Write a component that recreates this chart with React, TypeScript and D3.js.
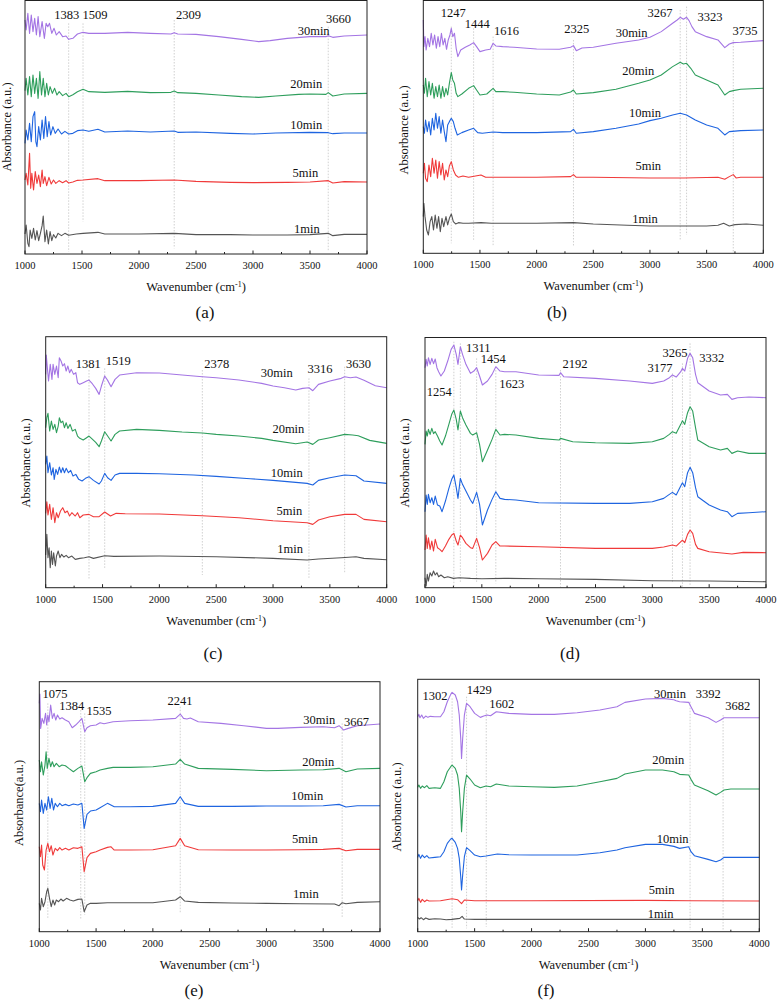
import React from "react";
import * as d3 from "d3";

type P = [number, number];
type Lbl = [string, number, number];
type VLine = [number, number, number];

const times = ["1min", "5min", "10min", "20min", "30min"];
const colors = ["#555555", "#F03A3A", "#1E64E0", "#2E9E5C", "#A475E4"];
const xTicks = [1000, 1500, 2000, 2500, 3000, 3500, 4000];
const xMinor = [1250, 1750, 2250, 2750, 3250, 3750];

// ---------- panel (a) ----------
const a30: P[] = [[1000,702],[1010,672],[1025,722],[1040,662],[1055,717],[1070,667],[1085,707],[1100,657],[1115,712],[1130,652],[1150,697],[1170,647],[1185,692],[1200,682],[1215,692],[1235,662],[1255,677],[1275,657],[1300,667],[1330,652],[1360,654],[1383,644],[1420,647],[1460,660],[1509,665],[1560,662],[1700,662],[1900,665],[2100,662],[2280,660],[2309,664],[2340,660],[2500,659],[2700,652],[2900,644],[3050,637],[3150,640],[3300,647],[3500,652],[3640,652],[3660,655],[3700,650],[3800,654],[4000,657]];
const a20: P[] = [[1000,490],[1010,527],[1025,477],[1040,532],[1055,472],[1070,537],[1085,482],[1100,527],[1115,467],[1130,547],[1145,477],[1160,527],[1175,472],[1190,512],[1205,477],[1220,502],[1240,482],[1260,497],[1280,477],[1300,487],[1330,475],[1360,482],[1383,472],[1420,478],[1460,487],[1509,494],[1560,487],[1700,485],[1900,488],[2100,484],[2280,485],[2309,489],[2340,484],[2500,482],[2700,477],[2900,472],[3050,470],[3200,474],[3400,479],[3500,480],[3640,479],[3660,484],[3700,474],[3800,480],[4000,482]];
const a10: P[] = [[1000,332],[1010,372],[1025,342],[1040,392],[1055,337],[1070,412],[1085,427],[1095,337],[1105,322],[1120,382],[1135,342],[1150,402],[1165,347],[1180,412],[1195,352],[1210,397],[1225,357],[1245,382],[1265,362],[1290,375],[1320,360],[1350,368],[1383,360],[1420,362],[1460,370],[1509,372],[1560,368],[1640,374],[1700,366],[1900,369],[2100,366],[2309,369],[2340,365],[2500,366],[2800,362],[3000,360],[3200,363],[3500,365],[3660,364],[3700,361],[3800,363],[4000,363]];
const a5: P[] = [[1000,222],[1010,242],[1025,207],[1040,302],[1050,197],[1060,242],[1075,192],[1090,247],[1105,212],[1120,237],[1135,202],[1150,252],[1160,212],[1175,232],[1190,205],[1210,230],[1230,210],[1250,222],[1270,212],[1300,220],[1330,214],[1360,220],[1383,213],[1420,216],[1460,221],[1509,222],[1640,226],[1700,220],[2000,220],[2309,222],[2500,218],[2800,215],[3000,214],[3300,215],[3500,216],[3660,220],[3700,213],[3800,217],[4000,216]];
const a1: P[] = [[1000,60],[1010,87],[1025,32],[1035,22],[1045,72],[1060,47],[1075,77],[1090,42],[1105,70],[1120,40],[1135,62],[1150,85],[1160,114],[1175,37],[1190,72],[1205,30],[1220,67],[1235,40],[1250,58],[1270,48],[1290,62],[1320,55],[1350,62],[1383,56],[1450,60],[1509,62],[1640,65],[1700,60],[2000,60],[2309,62],[2500,58],[2800,58],[3000,57],[3300,57],[3500,58],[3660,62],[3700,55],[3800,59],[4000,59]];
const aPeaks: Lbl[] = [["1383",1366,705],["1509",1615,705],["2309",2434,705],["3660",3751,692]];
const aTimePos: P[] = [[3473,64],[3459,232],[3467,374],[3467,497],[3532,657]];
const aLines: VLine[] = [[1383,692,7],[1509,692,97],[2309,702,17],[3660,682,7]];

// ---------- panel (b) ----------
const b30: P[] = [[1000,700],[1005,620],[1015,650],[1025,610],[1040,645],[1055,620],[1070,660],[1085,625],[1100,655],[1115,615],[1130,650],[1145,620],[1160,660],[1175,625],[1190,645],[1205,612],[1220,640],[1235,655],[1247,675],[1260,650],[1275,660],[1290,615],[1305,590],[1330,610],[1370,618],[1410,625],[1444,632],[1470,620],[1500,605],[1550,610],[1590,612],[1616,630],[1640,622],[1700,620],[1800,618],[2000,613],[2200,612],[2300,618],[2325,623],[2350,608],[2400,616],[2500,618],[2700,630],[2900,640],[3000,648],[3100,665],[3200,690],[3240,700],[3267,708],[3295,702],[3323,708],[3345,698],[3370,680],[3400,665],[3500,650],[3600,640],[3660,617],[3700,628],[3735,632],[3800,633],[4000,638]];
const b20: P[] = [[1000,505],[1010,480],[1020,525],[1035,470],[1050,515],[1065,475],[1080,510],[1095,465],[1110,500],[1125,470],[1140,505],[1155,465],[1170,500],[1185,470],[1200,495],[1215,475],[1230,510],[1247,542],[1260,520],[1275,510],[1290,480],[1305,470],[1340,478],[1400,495],[1444,503],[1470,490],[1500,475],[1560,478],[1616,495],[1640,485],[1700,485],[1800,483],[2000,478],[2200,475],[2300,484],[2325,490],[2350,478],[2500,482],[2700,492],[2900,510],[3000,520],[3100,535],[3200,560],[3267,573],[3295,568],[3323,570],[3360,555],[3400,535],[3500,520],[3600,505],[3660,475],[3700,485],[3735,488],[3800,492],[4000,495]];
const b10: P[] = [[1000,380],[1010,360],[1020,400],[1035,365],[1050,395],[1065,355],[1080,405],[1095,370],[1110,420],[1125,375],[1140,410],[1155,360],[1170,400],[1185,365],[1200,335],[1215,385],[1230,395],[1247,405],[1265,395],[1280,375],[1300,355],[1340,362],[1400,370],[1444,375],[1480,362],[1520,360],[1616,364],[1700,362],[2000,362],[2300,365],[2325,372],[2350,360],[2500,365],[2700,375],[2900,388],[3000,398],[3100,405],[3200,415],[3267,420],[3323,415],[3400,400],[3500,385],[3600,375],[3660,355],[3700,365],[3800,368],[4000,370]];
const b5: P[] = [[1000,240],[1010,270],[1020,225],[1035,215],[1050,265],[1065,230],[1080,285],[1095,240],[1110,280],[1125,225],[1140,275],[1155,235],[1170,270],[1185,220],[1200,250],[1215,230],[1230,262],[1247,275],[1265,250],[1285,235],[1310,228],[1350,232],[1400,228],[1509,235],[1550,228],[1700,228],[2000,228],[2300,230],[2325,236],[2350,228],[2500,228],[3000,226],[3300,226],[3600,228],[3660,222],[3700,230],[3735,236],[3760,226],[3800,228],[4000,228]];
const b1: P[] = [[1000,110],[1005,150],[1015,110],[1030,70],[1045,55],[1060,95],[1075,110],[1090,70],[1105,115],[1120,75],[1135,110],[1150,65],[1165,105],[1180,80],[1200,110],[1215,85],[1230,105],[1247,118],[1265,95],[1285,88],[1310,92],[1350,90],[1400,90],[1509,92],[1600,90],[1700,90],[2000,90],[2325,92],[2500,88],[2800,84],[3000,82],[3300,82],[3500,82],[3600,84],[3650,90],[3700,82],[3750,86],[3850,88],[4000,84]];
const bPeaks: Lbl[] = [["1247",1265,710],["1444",1476,675],["1616",1735,655],["2325",2353,660],["3267",3088,708],["3323",3529,697],["3735",3838,655]];
const bTimePos: P[] = [[2956,90],[2985,250],[2956,410],[2897,535],[2838,650]];
const bLines: VLine[] = [[1247,680,30],[1444,675,40],[1616,650,20],[2325,640,20],[3267,730,40],[3323,740,55],[3735,640,0]];

// ---------- panel (c) ----------
const c30: P[] = [[1000,640],[1005,698],[1015,658],[1025,620],[1040,670],[1055,625],[1065,670],[1080,640],[1095,665],[1110,630],[1120,690],[1135,680],[1150,665],[1165,672],[1180,650],[1195,665],[1210,645],[1225,655],[1245,640],[1265,645],[1280,615],[1300,610],[1330,615],[1360,620],[1381,623],[1410,612],[1440,598],[1470,580],[1490,605],[1519,635],[1545,622],[1575,603],[1610,625],[1650,638],[1800,645],[2000,644],[2200,638],[2378,633],[2500,630],[2700,623],[2900,613],[3000,605],[3100,600],[3200,593],[3260,598],[3316,600],[3350,591],[3400,610],[3500,620],[3600,628],[3630,633],[3680,630],[3730,632],[3800,622],[3900,606],[4000,600]];
const c20: P[] = [[1000,480],[1010,510],[1020,523],[1035,470],[1050,500],[1065,475],[1080,490],[1095,465],[1110,485],[1120,510],[1135,495],[1150,500],[1165,480],[1180,495],[1195,478],[1215,490],[1235,470],[1260,475],[1280,455],[1300,448],[1330,443],[1360,450],[1381,455],[1410,446],[1440,436],[1470,423],[1490,440],[1519,468],[1545,455],[1575,440],[1610,460],[1650,470],[1800,475],[2000,472],[2200,467],[2378,464],[2500,460],[2700,455],[2900,448],[3000,442],[3200,432],[3300,437],[3350,430],[3400,443],[3500,450],[3630,460],[3700,458],[3750,456],[3850,442],[4000,433]];
const c10: P[] = [[1000,370],[1010,395],[1020,345],[1035,375],[1050,338],[1065,360],[1075,325],[1090,355],[1105,340],[1120,362],[1135,345],[1150,360],[1165,345],[1180,358],[1200,345],[1220,352],[1240,335],[1265,340],[1290,325],[1320,320],[1350,328],[1381,333],[1420,322],[1470,311],[1490,320],[1519,343],[1545,330],[1575,322],[1610,338],[1650,343],[1800,343],[2000,342],[2300,338],[2500,334],[2800,327],[3000,322],[3200,316],[3300,313],[3350,308],[3400,322],[3500,330],[3630,338],[3730,336],[3800,320],[4000,313]];
const c5: P[] = [[1000,223],[1010,258],[1020,218],[1035,250],[1050,205],[1065,240],[1080,195],[1095,225],[1110,210],[1130,230],[1150,240],[1170,225],[1190,230],[1210,215],[1230,225],[1260,215],[1280,225],[1300,210],[1330,218],[1381,220],[1420,213],[1470,213],[1519,227],[1570,215],[1620,223],[1700,222],[2000,221],[2378,216],[2700,210],[3000,201],[3300,195],[3350,190],[3400,203],[3500,213],[3630,220],[3730,220],[3800,205],[4000,198]];
const c1: P[] = [[1000,98],[1010,160],[1020,90],[1030,120],[1040,60],[1050,110],[1060,70],[1070,105],[1085,65],[1095,95],[1110,110],[1125,90],[1140,100],[1160,92],[1180,97],[1200,90],[1230,95],[1260,85],[1300,88],[1340,90],[1381,93],[1420,88],[1519,96],[1600,94],[2000,95],[2500,93],[3000,88],[3300,83],[3400,86],[3600,90],[3730,93],[3800,88],[4000,84]];
const cPeaks: Lbl[] = [["1381",1375,660],["1519",1639,668],["2378",2505,660],["3316",3414,643],["3630",3751,660]];
const cTimePos: P[] = [[3150,103],[3144,218],[3121,333],[3135,463],[3033,633]];
const cLines: VLine[] = [[1381,653,25],[1519,658,55],[2378,653,38],[3316,628,28],[3630,663,43]];

// ---------- panel (d) ----------
const d30: P[] = [[1000,660],[1010,685],[1020,665],[1030,690],[1045,670],[1060,688],[1075,672],[1090,686],[1105,660],[1120,648],[1140,635],[1170,650],[1200,680],[1230,715],[1254,728],[1275,700],[1290,670],[1311,723],[1330,700],[1360,670],[1400,643],[1430,650],[1454,660],[1480,635],[1505,608],[1550,620],[1590,640],[1623,663],[1660,650],[1700,648],[1800,648],[2000,638],[2180,637],[2192,645],[2220,633],[2500,628],[2800,620],[3000,613],[3100,620],[3150,630],[3177,638],[3210,632],[3250,648],[3265,658],[3285,650],[3310,688],[3332,703],[3355,690],[3380,640],[3400,615],[3500,590],[3600,578],[3660,580],[3700,565],[3750,570],[3850,572],[4000,570]];
const d20: P[] = [[1000,430],[1010,470],[1020,455],[1030,475],[1045,460],[1060,478],[1075,462],[1090,468],[1110,455],[1130,440],[1150,428],[1180,455],[1210,490],[1235,520],[1254,533],[1275,505],[1290,473],[1311,530],[1330,510],[1360,488],[1400,463],[1420,458],[1454,465],[1480,430],[1505,378],[1550,413],[1590,445],[1623,475],[1660,458],[1700,460],[1800,458],[2000,448],[2180,443],[2192,448],[2300,438],[2500,435],[2800,433],[3000,438],[3100,448],[3150,460],[3177,468],[3210,463],[3250,490],[3265,501],[3285,490],[3310,525],[3332,543],[3355,530],[3380,480],[3400,443],[3500,423],[3600,413],[3660,418],[3700,403],[3750,410],[3850,403],[4000,403]];
const d10: P[] = [[1000,228],[1010,278],[1020,250],[1030,280],[1045,255],[1060,270],[1075,250],[1090,275],[1110,248],[1130,245],[1150,228],[1180,260],[1210,298],[1235,325],[1254,338],[1275,300],[1290,268],[1311,328],[1330,310],[1360,290],[1400,263],[1420,253],[1454,286],[1480,250],[1505,188],[1550,233],[1590,265],[1623,288],[1660,268],[1700,265],[1800,263],[2000,255],[2500,253],[2800,253],[3000,258],[3100,268],[3150,280],[3177,286],[3210,278],[3250,305],[3265,315],[3285,303],[3310,345],[3332,361],[3355,345],[3380,300],[3400,273],[3500,248],[3600,233],[3660,228],[3700,213],[3750,223],[3850,225],[4000,228]];
const d5: P[] = [[1000,113],[1010,158],[1020,118],[1030,150],[1045,115],[1060,140],[1075,110],[1090,145],[1110,120],[1130,115],[1150,108],[1180,125],[1210,145],[1235,158],[1254,163],[1275,140],[1290,128],[1311,158],[1330,150],[1360,133],[1400,120],[1420,118],[1454,148],[1480,120],[1505,83],[1550,103],[1590,128],[1623,138],[1660,125],[1700,125],[2000,123],[2500,118],[3000,118],[3100,122],[3177,128],[3210,125],[3265,143],[3285,135],[3310,160],[3332,173],[3355,163],[3380,130],[3400,118],[3500,108],[3700,101],[3800,106],[4000,105]];
const d1: P[] = [[1000,30],[1010,5],[1020,40],[1030,20],[1045,45],[1060,35],[1075,50],[1090,38],[1105,45],[1120,33],[1140,38],[1170,30],[1200,33],[1250,28],[1300,30],[1400,28],[1500,27],[1700,28],[2000,27],[2500,25],[3000,21],[3500,20],[4000,18]];
const dPeaks: Lbl[] = [["1311",1469,708],["1454",1601,675],["2192",2320,658],["3177",3068,648],["3265",3200,693],["3332",3523,678],["1254",1126,575],["1623",1763,600]];
const dTimePos: P[] = [];
const dLines: VLine[] = [[1254,738,0],[1311,733,13],[1454,688,13],[1623,653,13],[2192,653,3],[3177,643,13],[3265,673,3],[3332,733,8]];

// ---------- panel (e) ----------
const e30: P[] = [[1000,685],[1005,713],[1012,610],[1025,640],[1040,625],[1055,655],[1065,620],[1075,650],[1085,630],[1100,680],[1115,640],[1130,655],[1145,635],[1160,650],[1180,638],[1200,642],[1230,635],[1260,630],[1290,612],[1320,620],[1350,630],[1375,640],[1400,600],[1420,612],[1450,618],[1500,620],[1535,627],[1570,624],[1650,630],[1800,633],[2000,635],[2200,640],[2241,653],[2270,640],[2300,638],[2330,641],[2400,630],[2600,625],[2800,618],[3000,610],[3100,610],[3300,613],[3500,615],[3600,612],[3640,618],[3680,605],[3720,610],[3800,618],[4000,623]];
const e20: P[] = [[1000,515],[1010,480],[1020,510],[1035,470],[1050,500],[1060,540],[1070,490],[1085,520],[1100,495],[1115,510],[1130,495],[1150,505],[1175,495],[1200,500],[1230,498],[1260,490],[1300,480],[1340,490],[1375,497],[1400,450],[1420,462],[1450,475],[1500,480],[1535,485],[1600,490],[1650,493],[1800,493],[2000,495],[2200,503],[2241,517],[2280,503],[2400,490],[2700,487],[3000,483],[3300,485],[3500,486],[3640,490],[3700,480],[3800,488],[4000,490]];
const e10: P[] = [[1000,385],[1010,360],[1020,395],[1035,355],[1050,385],[1065,365],[1080,405],[1095,370],[1110,400],[1125,365],[1140,385],[1160,375],[1180,385],[1200,378],[1230,382],[1260,378],[1300,383],[1340,380],[1375,385],[1395,310],[1420,352],[1450,362],[1500,365],[1535,372],[1600,385],[1630,380],[1660,375],[1800,375],[2000,376],[2200,385],[2241,405],[2280,385],[2400,376],[2700,376],[3000,377],[3300,377],[3500,378],[3640,382],[3700,374],[3800,378],[4000,378]];
const e5: P[] = [[1000,255],[1010,225],[1020,260],[1030,200],[1045,185],[1060,245],[1075,265],[1090,240],[1105,258],[1120,230],[1140,250],[1160,243],[1180,252],[1200,245],[1230,250],[1260,245],[1300,252],[1340,250],[1375,255],[1395,180],[1420,222],[1450,235],[1500,240],[1535,245],[1600,253],[1630,255],[1660,245],[1800,245],[2000,246],[2200,258],[2241,280],[2280,258],[2400,246],[2700,245],[3000,245],[3300,246],[3500,247],[3640,250],[3700,243],[3800,247],[4000,247]];
const e1: P[] = [[1000,85],[1010,65],[1020,100],[1035,75],[1050,90],[1065,120],[1075,130],[1090,100],[1105,75],[1120,95],[1135,80],[1150,95],[1170,90],[1190,98],[1210,92],[1240,100],[1270,95],[1300,92],[1340,97],[1375,98],[1395,60],[1420,80],[1450,85],[1500,85],[1600,87],[1800,87],[2000,87],[2200,95],[2241,105],[2280,92],[2400,88],[2700,86],[3000,85],[3300,84],[3600,83],[3640,78],[3667,87],[3700,84],[3800,88],[4000,90]];
const ePeaks: Lbl[] = [["1075",1138,700],["1384",1285,665],["1535",1525,650],["2241",2239,680],["3667",3794,618]];
const eTimePos: P[] = [[3348,100],[3339,265],[3360,395],[3457,497],[3465,623]];
const eLines: VLine[] = [[1075,685,40],[1365,665,35],[1400,655,50],[2241,675,55],[3667,625,40]];

// ---------- panel (f) ----------
const f30: P[] = [[1000,645],[1010,652],[1020,642],[1035,650],[1050,640],[1070,647],[1090,643],[1110,646],[1150,645],[1200,645],[1230,660],[1260,690],[1290,712],[1302,718],[1330,710],[1350,690],[1365,650],[1378,580],[1385,520],[1395,580],[1410,650],[1429,685],[1460,675],[1500,655],[1550,643],[1580,647],[1610,650],[1640,648],[1690,660],[1800,655],[2000,652],[2200,652],[2400,657],[2600,665],[2750,675],[2820,688],[3000,698],[3150,700],[3250,696],[3270,693],[3300,690],[3380,688],[3400,675],[3430,655],[3550,642],[3620,628],[3660,635],[3690,642],[3750,642],[4000,642]];
const f20: P[] = [[1000,433],[1010,440],[1025,430],[1040,437],[1060,432],[1080,438],[1100,430],[1150,432],[1200,430],[1230,450],[1260,480],[1290,495],[1302,500],[1330,490],[1350,470],[1365,430],[1378,360],[1385,300],[1395,360],[1410,430],[1429,470],[1460,458],[1500,440],[1550,432],[1600,437],[1640,435],[1690,443],[1800,437],[2000,435],[2200,433],[2400,437],[2600,450],[2750,460],[2820,473],[3000,485],[3150,485],[3250,480],[3270,477],[3300,472],[3380,470],[3400,457],[3430,440],[3550,423],[3620,410],[3660,418],[3690,425],[3750,428],[4000,428]];
const f10: P[] = [[1000,223],[1010,232],[1025,220],[1040,230],[1060,222],[1080,228],[1100,221],[1150,223],[1200,225],[1230,240],[1260,265],[1290,278],[1302,280],[1330,268],[1350,250],[1365,220],[1378,165],[1385,125],[1395,170],[1410,225],[1429,252],[1460,243],[1500,230],[1550,225],[1600,227],[1700,233],[1800,231],[2000,230],[2400,230],[2600,237],[2750,245],[2820,252],[3000,262],[3150,262],[3250,256],[3300,250],[3380,255],[3400,240],[3430,228],[3550,217],[3620,210],[3660,215],[3690,223],[3750,223],[4000,223]];
const f5: P[] = [[1000,93],[1010,100],[1025,88],[1040,97],[1060,90],[1080,95],[1100,92],[1200,93],[1302,99],[1350,96],[1385,84],[1410,95],[1500,93],[2000,93],[3000,94],[3400,93],[4000,92]];
const f1: P[] = [[1000,43],[1015,38],[1030,42],[1050,36],[1070,41],[1100,37],[1150,39],[1200,38],[1250,36],[1300,37],[1370,40],[1390,46],[1410,38],[1500,37],[2000,37],[3000,37],[4000,37]];
const fPeaks: Lbl[] = [["1302",1152,695],["1429",1541,713],["1602",1738,672],["3392",3552,702],["3682",3810,665]];
const fTimePos: P[] = [[3134,40],[3143,113],[3239,267],[3201,503],[3216,702]];
const fLines: VLine[] = [[1302,700,10],[1429,705,10],[1602,665,15],[3392,690,5],[3682,650,5]];

interface Panel {
  tag: string;
  yLabel: string;
  series: P[][];
  peaks: Lbl[];
  timePos: P[];
  lines: VLine[];
  box: { l: number; r: number; t: number; b: number };
  tagPos: [number, number];
  yLabelPos: [number, number];
}

const panels: Panel[] = [
  { tag: "(a)", yLabel: "Absorbance (a.u.)", series: [a1, a5, a10, a20, a30], peaks: aPeaks, timePos: aTimePos, lines: aLines,
    box: { l: 25, r: 367, t: 0.5, b: 254 }, tagPos: [205, 318], yLabelPos: [8, 127] },
  { tag: "(b)", yLabel: "Absorbance (a.u.)", series: [b1, b5, b10, b20, b30], peaks: bPeaks, timePos: bTimePos, lines: bLines,
    box: { l: 423.3, r: 763.3, t: 0.5, b: 253.3 }, tagPos: [557, 318], yLabelPos: [405, 130] },
  { tag: "(c)", yLabel: "Absorbance (a.u.)", series: [c1, c5, c10, c20, c30], peaks: cPeaks, timePos: cTimePos, lines: cLines,
    box: { l: 45.7, r: 386.7, t: 336.7, b: 587.7 }, tagPos: [213, 659], yLabelPos: [27, 463] },
  { tag: "(d)", yLabel: "Absorbance (a.u.)", series: [d1, d5, d10, d20, d30], peaks: dPeaks, timePos: dTimePos, lines: dLines,
    box: { l: 425, r: 766, t: 337.5, b: 587.7 }, tagPos: [570, 659], yLabelPos: [406, 463] },
  { tag: "(e)", yLabel: "Absorbance(a.u.)", series: [e1, e5, e10, e20, e30], peaks: ePeaks, timePos: eTimePos, lines: eLines,
    box: { l: 39.3, r: 380, t: 681.7, b: 931.7 }, tagPos: [194, 996], yLabelPos: [20, 803] },
  { tag: "(f)", yLabel: "Absorbance (a.u.)", series: [f1, f5, f10, f20, f30], peaks: fPeaks, timePos: fTimePos, lines: fLines,
    box: { l: 417.7, r: 759.3, t: 679.3, b: 931.7 }, tagPos: [546, 996], yLabelPos: [398, 807] },
];

const FONT = "Liberation Serif, DejaVu Serif, serif";

function PanelView({ p }: { p: Panel }) {
  const { l, r, t, b } = p.box;
  const x = d3.scaleLinear().domain([1000, 4000]).range([l, r]);
  const y = d3.scaleLinear().domain([0, (b - t) * 3]).range([b, t]);
  const line = d3.line<P>().x((d) => x(d[0])).y((d) => y(d[1]));
  const cx = (l + r) / 2;
  return (
    <g fontFamily={FONT}>
      {p.lines.map((ln, i) => (
        <line key={"v" + i} x1={x(ln[0])} x2={x(ln[0])} y1={y(ln[1])} y2={y(ln[2])}
          stroke="#c4c4c4" strokeWidth={0.8} strokeDasharray="1.5,1.5" />
      ))}
      {p.series.map((s, i) => (
        <path key={"s" + i} d={line(s) || ""} fill="none" stroke={colors[i]} strokeWidth={1.1} strokeLinejoin="round" />
      ))}
      <rect x={l} y={t} width={r - l} height={b - t} fill="none" stroke="#222" strokeWidth={1} />
      {xTicks.map((v) => (
        <g key={"t" + v}>
          <line x1={x(v)} x2={x(v)} y1={b} y2={b - 3.5} stroke="#222" strokeWidth={1} />
          <text x={x(v)} y={b + 15} fontSize={10.5} textAnchor="middle" fill="#111" fontFamily={FONT}>{v}</text>
        </g>
      ))}
      {xMinor.map((v) => (
        <line key={"m" + v} x1={x(v)} x2={x(v)} y1={b} y2={b - 2} stroke="#222" strokeWidth={1} />
      ))}
      <text x={cx} y={b + 37} fontSize={12.5} textAnchor="middle" fill="#111" fontFamily={FONT}>
        Wavenumber (cm<tspan dy={-4} fontSize={8}>-1</tspan><tspan dy={4}>)</tspan>
      </text>
      <text x={p.tagPos[0]} y={p.tagPos[1]} fontSize={17} textAnchor="middle" fill="#111" fontFamily={FONT}>{p.tag}</text>
      <text transform={`translate(${p.yLabelPos[0]},${p.yLabelPos[1]}) rotate(-90)`} fontSize={12.5}
        textAnchor="middle" dominantBaseline="middle" fill="#111" fontFamily={FONT}>{p.yLabel}</text>
      {p.peaks.map((pk, i) => (
        <text key={"p" + i} x={x(pk[1])} y={y(pk[2])} fontSize={12.5} textAnchor="middle" fill="#111" fontFamily={FONT}>{pk[0]}</text>
      ))}
      {p.timePos.map((tp, i) => (
        <text key={"n" + i} x={x(tp[0])} y={y(tp[1])} fontSize={12.5} textAnchor="middle" fill="#111" fontFamily={FONT}>{times[i]}</text>
      ))}
    </g>
  );
}

export default function App() {
  return (
    <svg width={777} height={1000} viewBox="0 0 777 1000"
      style={{ position: "absolute", left: 0, top: 0, background: "#fff" }}>
      <rect width={777} height={1000} fill="#fff" />
      {panels.map((p) => (
        <PanelView key={p.tag} p={p} />
      ))}
    </svg>
  );
}
